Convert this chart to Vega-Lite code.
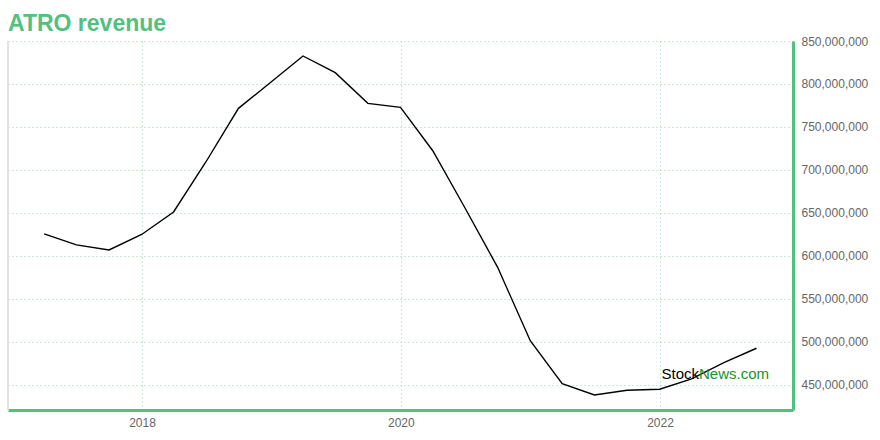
{
  "$schema": "https://vega.github.io/schema/vega-lite/v6.json",
  "width": 785,
  "height": 369,
  "autosize": {"type": "none"},
  "padding": {"left": 8, "top": 41, "right": 87, "bottom": 30},
  "background": "white",
  "title": {
    "text": "ATRO revenue",
    "anchor": "start",
    "frame": "group",
    "font": "Liberation Sans",
    "fontSize": 23,
    "fontWeight": "bold",
    "color": "#52c07f",
    "baseline": "alphabetic",
    "offset": -19
  },
  "config": {
    "view": {"stroke": null},
    "axis": {
      "labelFont": "Liberation Sans",
      "labelFontSize": 12,
      "labelColor": "#666666",
      "ticks": false,
      "domainColor": "#52c07f",
      "domainWidth": 3,
      "gridColor": "#8fd6ae",
      "gridDash": [1, 3],
      "gridWidth": 1,
      "title": null
    }
  },
  "datasets": {
    "rev": [
      {"date": "2017-03-31", "revenue": 625800000},
      {"date": "2017-06-30", "revenue": 612900000},
      {"date": "2017-09-30", "revenue": 607000000},
      {"date": "2017-12-31", "revenue": 625000000},
      {"date": "2018-03-31", "revenue": 651200000},
      {"date": "2018-06-30", "revenue": 709300000},
      {"date": "2018-09-30", "revenue": 771700000},
      {"date": "2018-12-31", "revenue": 802300000},
      {"date": "2019-03-31", "revenue": 832600000},
      {"date": "2019-06-30", "revenue": 813200000},
      {"date": "2019-09-30", "revenue": 777500000},
      {"date": "2019-12-31", "revenue": 772900000},
      {"date": "2020-03-31", "revenue": 722400000},
      {"date": "2020-06-30", "revenue": 655800000},
      {"date": "2020-09-30", "revenue": 586800000},
      {"date": "2020-12-31", "revenue": 501500000},
      {"date": "2021-03-31", "revenue": 451500000},
      {"date": "2021-06-30", "revenue": 438400000},
      {"date": "2021-09-30", "revenue": 443800000},
      {"date": "2021-12-31", "revenue": 445000000},
      {"date": "2022-03-31", "revenue": 457000000},
      {"date": "2022-06-30", "revenue": 476000000},
      {"date": "2022-09-30", "revenue": 492700000}
    ],
    "mark": [
      {"date": "2022-04-21", "revenue": 457000000, "part": "Stock"}
    ]
  },
  "layer": [
    {
      "data": {"name": "rev"},
      "mark": {"type": "rule", "color": "#e2e2e2", "strokeWidth": 1},
      "encoding": {
        "x": {"datum": {"year": 2016, "month": 12, "date": 19, "utc": true}, "type": "temporal"}
      }
    },
    {
      "data": {"name": "rev"},
      "mark": {"type": "line", "color": "#000000", "strokeWidth": 1.4},
      "encoding": {
        "x": {
          "field": "date",
          "type": "temporal",
          "scale": {
            "type": "utc",
            "domain": [
              {"year": 2016, "month": 12, "date": 19, "utc": true},
              {"year": 2023, "month": 1, "date": 11, "utc": true}
            ]
          },
          "axis": {
            "orient": "bottom",
            "values": [
              {"year": 2018, "utc": true},
              {"year": 2020, "utc": true},
              {"year": 2022, "utc": true}
            ],
            "format": "%Y",
            "formatType": "utc",
            "labelPadding": 7,
            "grid": true
          }
        },
        "y": {
          "field": "revenue",
          "type": "quantitative",
          "scale": {"domain": [420900000, 850000000], "nice": false, "zero": false},
          "axis": {
            "orient": "right",
            "values": [450000000, 500000000, 550000000, 600000000, 650000000, 700000000, 750000000, 800000000, 850000000],
            "format": ",d",
            "labelPadding": 8,
            "grid": true
          }
        }
      }
    },
    {
      "data": {"name": "mark"},
      "mark": {"type": "text", "text": "Stock", "align": "right", "baseline": "alphabetic", "font": "Liberation Sans", "fontSize": 15, "color": "#000000"},
      "encoding": {
        "x": {"field": "date", "type": "temporal"},
        "y": {"field": "revenue", "type": "quantitative"}
      }
    },
    {
      "data": {"name": "mark"},
      "mark": {"type": "text", "text": "News.com", "align": "left", "baseline": "alphabetic", "font": "Liberation Sans", "fontSize": 15, "color": "#14952c"},
      "encoding": {
        "x": {"field": "date", "type": "temporal"},
        "y": {"field": "revenue", "type": "quantitative"}
      }
    }
  ]
}
